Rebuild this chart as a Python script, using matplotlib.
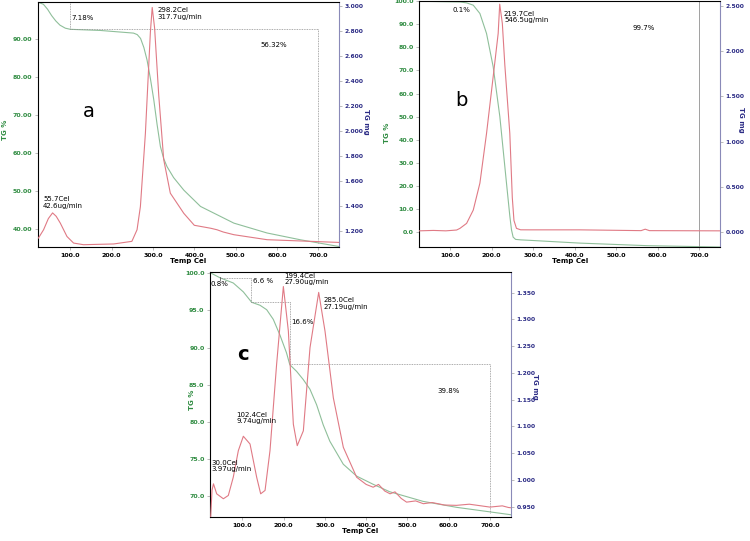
import matplotlib.pyplot as plt
import numpy as np

# ---- panel a ----
a_tg_x = [23, 35, 45, 55, 65, 75, 88, 100, 172.7, 253, 262, 270, 278, 285.7, 294, 302, 310, 318, 326, 334,
          350, 374.6, 415, 495.7, 576, 657, 752]
a_tg_y = [99.7, 99.2, 97.9, 96.2, 94.8, 93.7, 92.9, 92.6, 92.3, 91.6, 91.2, 90.2, 87.8, 84.5, 79.5, 74, 67.5,
          61.7, 58.5, 56.4, 53.5, 50.2, 45.9, 41.5, 38.9, 37.1, 35.3]
a_dtg_x = [23, 35.4, 47, 57.2, 66, 75.8, 92, 108, 132, 205, 249, 261.5, 269.6, 281.7, 293.8, 298.2,
           304, 314, 326, 342, 374.6, 400, 415, 440, 455, 470, 495.7, 576, 752]
a_dtg_y = [8.9, 20, 35, 42.6, 38, 29, 11, 2.2, 0, 1, 4.5, 20, 51, 149, 285, 317.7,
           290, 200, 114, 69, 42, 26, 24.5, 22, 20, 17, 13.4, 6.7, 3]

# ---- panel b ----
b_tg_x = [26, 124, 140, 156, 172, 188, 204, 220, 236, 244, 248, 252, 258, 270, 292, 412, 573, 750]
b_tg_y = [100, 99.7, 99.3, 98.3, 94.7, 86, 71.6, 50, 21.2, 7, 1, -2.2, -3.2, -3.4, -3.6, -4.8, -5.9, -6.5]
b_dtg_x = [26, 60, 90, 116, 124, 140, 156, 172, 188, 204, 216, 219.7, 226, 232, 244, 250, 254, 260, 270,
           292, 412, 560, 570, 580, 750]
b_dtg_y = [0, 1, 0, 2, 6, 18, 50, 115, 235, 372, 476, 546.5, 500, 400, 235, 80, 25, 6, 2.5,
           2.4, 2.4, 0.5, 4, 0.5, 0]

# ---- panel c ----
c_tg_x = [21.6, 45.8, 78, 102.4, 122.6, 142.8, 159, 175, 191, 207, 215, 231.5, 247.6, 263.8, 280, 296,
          312, 344.6, 377, 417, 457, 538, 619, 751]
c_tg_y = [100.1, 99.4, 98.7, 97.5, 96.1, 95.7, 95.1, 93.8, 91.7, 89.3, 87.7, 86.8, 85.7, 84.4, 82.3, 79.6,
          77.4, 74.3, 72.7, 71.6, 70.6, 69.3, 68.5, 67.5]
c_dtg_x = [23.3, 26.5, 30, 37.8, 54, 66, 78, 90.3, 102.4, 118.6, 134.7, 144.4, 155, 167, 183, 199.4,
           211.5, 223.6, 233, 247.8, 264, 285, 300.3, 320.5, 344.7, 377, 400, 417, 430, 445, 458,
           470, 485, 498, 520, 538.6, 560, 590, 619, 650, 700, 730, 745, 751]
c_dtg_y = [0, 3.2, 3.97, 2.76, 2.16, 2.56, 4.77, 8.0, 9.74, 8.8, 4.77, 2.76, 3.17, 8.0, 18.45, 27.9,
           22.5, 11.2, 8.6, 10.4, 20.5, 27.19, 22.5, 14.4, 8.4, 4.77, 3.9, 3.56, 3.9, 3.1, 2.76,
           3.0, 2.2, 1.75, 1.9, 1.56, 1.7, 1.4, 1.36, 1.5, 1.15, 1.3, 1.1, 1.07]

GREEN = '#2e8b40'
NAVY = '#2b2b85'
TG_COL = '#8fbf9a'
DTG_COL = '#e07a85'
FRAME = '#b0b0b0'
FS = 5.0
TFS = 4.5


def make_panel(rect, xlim, ylim, y2lim, dlim, yticks, yfmt, y2ticks, y2fmt, lpos, rpos):
    ax = fig.add_axes(rect)
    ax.set_xlim(*xlim)
    ax.set_ylim(*ylim)
    ax.set_xticks([100, 200, 300, 400, 500, 600, 700])
    ax.set_xticklabels(['%.1f' % t for t in [100, 200, 300, 400, 500, 600, 700]],
                       fontsize=TFS, fontweight='bold')
    ax.set_yticks(yticks)
    ax.set_yticklabels([yfmt % t for t in yticks], fontsize=TFS, fontweight='bold', color=GREEN)
    ax.tick_params(length=2.5, width=0.6, color=FRAME, pad=1.5)
    ax.set_xlabel('Temp Cel', fontsize=FS, fontweight='bold', labelpad=0)
    ax.set_ylabel('TG %', fontsize=FS, fontweight='bold', color=GREEN)
    ax.yaxis.set_label_coords(*lpos)
    for s in ax.spines.values():
        s.set_color(FRAME)
        s.set_linewidth(0.7)
    ax.spines['left'].set_color('#9fc8a8')
    ax2 = ax.twinx()
    ax2.set_ylim(*y2lim)
    ax2.set_yticks(y2ticks)
    ax2.set_yticklabels([y2fmt % t for t in y2ticks], fontsize=TFS - 0.2, fontweight='bold', color=NAVY)
    ax2.tick_params(length=2.5, width=0.6, color=FRAME, pad=1.5)
    ax2.set_ylabel('TG mg', fontsize=FS, fontweight='bold', color=NAVY, rotation=270)
    ax2.yaxis.set_label_coords(*rpos)
    ax2.spines['right'].set_color('#8a8ab8')
    ax3 = ax.twinx()
    ax3.set_ylim(*dlim)
    ax3.axis('off')
    return ax, ax3


fig = plt.figure(figsize=(7.5, 5.41), dpi=100)
lw = 0.8
ann = dict(color='#909090', lw=0.6, ls=(0, (1, 1)))

# panel a
ax, d = make_panel([0.0507, 0.5434, 0.4013, 0.4529], (22, 750), (35.2, 99.8), (1.069, 3.032), (-3.1, 325),
                   [40, 50, 60, 70, 80, 90], '%.2f', [1.2, 1.4, 1.6, 1.8, 2.0, 2.2, 2.4, 2.6, 2.8, 3.0], '%.3f',
                   (-0.1, 0.478), (1.1, 0.51))
ax.plot(a_tg_x, a_tg_y, color=TG_COL, lw=lw)
d.plot(a_dtg_x, a_dtg_y, color=DTG_COL, lw=lw)
ax.plot([100, 100], [99.8, 92.6], **ann)
ax.plot([100, 700], [92.6, 92.6], **ann)
ax.plot([700, 700], [92.6, 36.2], **ann)
ax.text(102, 95.6, '7.18%', fontsize=FS, va='center')
ax.text(560, 88.5, '56.32%', fontsize=FS, va='center')
ax.text(144, 71, 'a', fontsize=14, ha='center', va='center')
d.text(312, 318, '298.2Cel\n317.7ug/min', fontsize=FS, va='top', linespacing=1.1)
d.text(34, 48, '55.7Cel\n42.6ug/min', fontsize=FS, va='bottom', linespacing=1.1)

# panel b
ax, d = make_panel([0.559, 0.5434, 0.401, 0.4547], (26, 750), (-6.5, 100.1), (-0.166, 2.555), (-39, 554),
                   [0, 10, 20, 30, 40, 50, 60, 70, 80, 90, 100], '%.1f', [0, 0.5, 1.0, 1.5, 2.0, 2.5], '%.3f',
                   (-0.096, 0.463), (1.08, 0.516))
ax.plot(b_tg_x, b_tg_y, color=TG_COL, lw=lw)
d.plot(b_dtg_x, b_dtg_y, color=DTG_COL, lw=lw)
ax.axvline(700, color='#909090', lw=0.6)
ax.plot([26, 124], [99.9, 99.9], **ann)
ax.text(105, 96.3, '0.1%', fontsize=FS, va='center')
ax.text(540, 88.5, '99.7%', fontsize=FS, va='center')
ax.text(128, 57, 'b', fontsize=14, ha='center', va='center')
d.text(230, 530, '219.7Cel\n546.5ug/min', fontsize=FS, va='top', linespacing=1.1)

# panel c
ax, d = make_panel([0.28, 0.0444, 0.4013, 0.4534], (21.6, 751), (67.2, 100.22), (0.931, 1.389), (-0.05, 29.7),
                   [70, 75, 80, 85, 90, 95, 100], '%.1f',
                   [0.95, 1.0, 1.05, 1.1, 1.15, 1.2, 1.25, 1.3, 1.35], '%.3f',
                   (-0.05, 0.477), (1.09, 0.53))
ax.plot(c_tg_x, c_tg_y, color=TG_COL, lw=lw)
d.plot(c_dtg_x, c_dtg_y, color=DTG_COL, lw=lw)
ax.plot([45.8, 120], [99.33, 99.33], **ann)
ax.plot([45.8, 45.8], [99.1, 99.55], color='#606060', lw=0.6)
ax.plot([120, 120], [99.33, 96.1], **ann)
ax.plot([120, 215.5], [96.1, 96.1], **ann)
ax.plot([215.5, 215.5], [96.1, 87.8], **ann)
ax.plot([215.5, 700], [87.8, 87.8], **ann)
ax.plot([700, 700], [87.8, 67.8], **ann)
ax.text(24, 98.6, '0.8%', fontsize=FS, va='center')
ax.text(125, 99.0, '6.6 %', fontsize=FS, va='center')
ax.text(219, 93.4, '16.6%', fontsize=FS, va='center')
ax.text(572, 84.1, '39.8%', fontsize=FS, va='center')
ax.text(102, 89.1, 'c', fontsize=14, fontweight='bold', ha='center', va='center')
d.text(202, 29.6, '199.4Cel\n27.90ug/min', fontsize=FS, va='top', linespacing=1.1)
d.text(297, 26.6, '285.0Cel\n27.19ug/min', fontsize=FS, va='top', linespacing=1.1)
d.text(86, 11.2, '102.4Cel\n9.74ug/min', fontsize=FS, va='bottom', linespacing=1.1)
d.text(25, 5.4, '30.0Cel\n3.97ug/min', fontsize=FS, va='bottom', linespacing=1.1)

fig.savefig('out.png', dpi=100)
